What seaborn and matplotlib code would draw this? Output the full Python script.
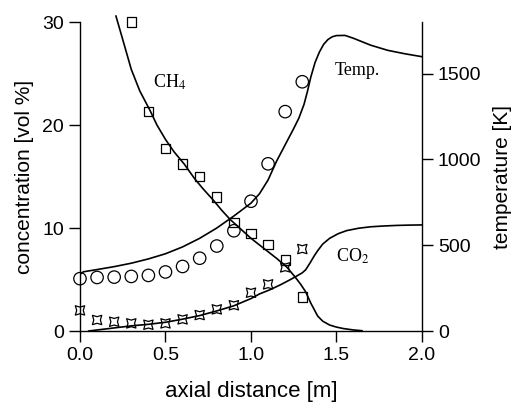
import matplotlib
matplotlib.use("Agg")
import matplotlib.pyplot as plt
import seaborn as sns

# measured points (x in m)
x_meas = [0.0, 0.1, 0.2, 0.3, 0.4, 0.5, 0.6, 0.7, 0.8, 0.9, 1.0, 1.1, 1.2, 1.3]
ch4_x = [0.3, 0.4, 0.5, 0.6, 0.7, 0.8, 0.9, 1.0, 1.1, 1.2, 1.3]
ch4_meas = [30.0, 21.3, 17.7, 16.2, 15.0, 13.0, 10.55, 9.5, 8.4, 6.9, 3.3]
co2_meas = [2.0, 1.07, 0.9, 0.74, 0.61, 0.74, 1.13, 1.55, 2.1, 2.5, 3.72, 4.53, 6.18, 7.96]
temp_meas = [305, 312, 314, 318, 324, 344, 376, 424, 495, 584, 756, 974, 1278, 1452]

# model curves
ch4_line_x = [0.21, 0.25, 0.3, 0.35, 0.41, 0.45, 0.5, 0.55, 0.61, 0.67, 0.72, 0.78,
              0.83, 0.88, 0.94, 1.0, 1.05, 1.1, 1.15, 1.21, 1.26, 1.29, 1.32, 1.35,
              1.39, 1.42, 1.46, 1.5, 1.54, 1.6, 1.65]
ch4_line = [30.6, 28.3, 25.4, 23.3, 21.4, 20.0, 18.6, 17.4, 16.2, 14.8, 13.8, 12.7,
            11.7, 10.8, 9.9, 9.0, 8.35, 7.7, 7.05, 6.2, 5.2, 4.55, 3.8, 2.7,
            1.45, 0.95, 0.58, 0.38, 0.24, 0.1, 0.03]
co2_line_x = [0.05, 0.2, 0.3, 0.4, 0.5, 0.6, 0.7, 0.8, 0.9, 1.0, 1.05, 1.11, 1.17,
              1.22, 1.26, 1.3, 1.32, 1.345, 1.37, 1.39, 1.42, 1.46, 1.51, 1.56,
              1.63, 1.7, 1.78, 1.85, 1.92, 2.0]
co2_line = [0.0, 0.3, 0.5, 0.65, 0.85, 1.15, 1.5, 1.95, 2.45, 3.15, 3.6, 4.0, 4.47,
            4.9, 5.27, 5.65, 5.95, 6.6, 7.3, 7.8, 8.45, 9.0, 9.45, 9.75,
            9.98, 10.12, 10.2, 10.25, 10.28, 10.3]
temp_line_x = [0.0, 0.02, 0.1, 0.2, 0.3, 0.4, 0.5, 0.6, 0.7, 0.8, 0.9, 1.0, 1.05, 1.1,
               1.15, 1.2, 1.25, 1.28, 1.31, 1.33, 1.35, 1.375, 1.4, 1.425, 1.45,
               1.475, 1.5, 1.55, 1.6, 1.65, 1.7, 1.8, 1.9, 2.0]
temp_line = [330, 345, 358, 375, 395, 420, 450, 490, 540, 600, 670, 745, 800, 880,
             990, 1085, 1180, 1240, 1320, 1395, 1480, 1565, 1625, 1670, 1698,
             1714, 1721, 1722, 1705, 1685, 1665, 1635, 1615, 1598]

sns.set_style("ticks")
plt.rcParams["font.family"] = ["Liberation Sans", "DejaVu Sans"]
plt.rcParams["mathtext.fontset"] = "stix"
plt.rcParams["text.color"] = "black"
plt.rcParams["axes.labelcolor"] = "black"

fig = plt.figure(figsize=(5.15, 4.07), dpi=100)
ax = fig.add_axes([0.1553, 0.1867, 0.6641, 0.7592])
ax2 = ax.twinx()

lw = 1.2
sns.lineplot(x=ch4_line_x, y=ch4_line, ax=ax, color="black", lw=lw, clip_on=False)
sns.lineplot(x=co2_line_x, y=co2_line, ax=ax, color="black", lw=lw)
sns.lineplot(x=temp_line_x, y=temp_line, ax=ax2, color="black", lw=lw)

sns.scatterplot(x=ch4_x, y=ch4_meas, ax=ax, marker="s", s=45, facecolor="none",
                edgecolor="black", linewidth=0.9, clip_on=False, zorder=3)
sns.scatterplot(x=x_meas, y=co2_meas, ax=ax, marker=(4, 1, 45), s=90,
                facecolor="none", edgecolor="black", linewidth=0.9, clip_on=False, zorder=3)
sns.scatterplot(x=x_meas, y=temp_meas, ax=ax2, marker="o", s=80, facecolor="none",
                edgecolor="black", linewidth=0.9, clip_on=False, zorder=3)

ax.set_xlim(0, 2.0)
ax.set_ylim(0, 30)
ax2.set_ylim(0, 1800)
ax.set_xticks([0.0, 0.5, 1.0, 1.5, 2.0])
ax.set_xticklabels(["0.0", "0.5", "1.0", "1.5", "2.0"])
ax.set_yticks([0, 10, 20, 30])
ax2.set_yticks([0, 500, 1000, 1500])

for a in (ax, ax2):
    a.spines["top"].set_visible(False)
    for sp in a.spines.values():
        sp.set_linewidth(1.0)
        sp.set_color("black")
    a.tick_params(labelsize=14, length=8, width=1.0, direction="out",
                  colors="black", labelcolor="black")
ax.spines["right"].set_visible(False)
ax2.spines["left"].set_visible(False)
ax2.spines["bottom"].set_visible(False)

ax.set_xlabel("axial distance [m]", fontsize=16, labelpad=12, color="black")
ax.set_ylabel("concentration [vol %]", fontsize=15, labelpad=6, color="black")
ax2.set_ylabel("temperature [K]", fontsize=15, rotation=90, labelpad=8, color="black")

serif = ["Liberation Serif", "DejaVu Serif"]
ax.text(0.427, 24.1, r"CH$_4$", family=serif, fontsize=13, va="center", ha="left")
ax.text(1.49, 25.3, "Temp.", family=serif, fontsize=13, va="center", ha="left")
ax.text(1.50, 7.3, r"CO$_2$", family=serif, fontsize=13, va="center", ha="left")

fig.savefig("out.png", dpi=100)
